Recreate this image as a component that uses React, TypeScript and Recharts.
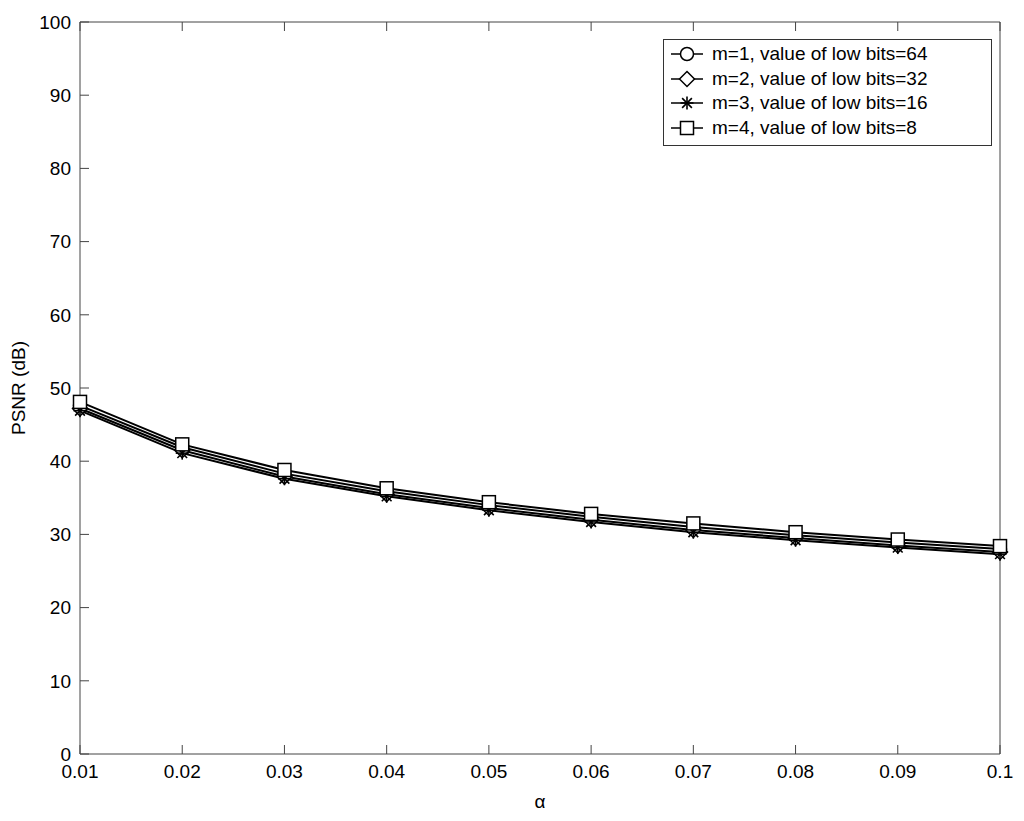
import { LineChart, Line, XAxis, YAxis } from 'recharts';

const alpha = [0.01, 0.02, 0.03, 0.04, 0.05, 0.06, 0.07, 0.08, 0.09, 0.1];
const m1 = [47.6, 41.9, 38.3, 35.9, 34.0, 32.4, 31.0, 29.9, 28.9, 28.0];
const m2 = [47.2, 41.5, 37.9, 35.5, 33.6, 32.0, 30.6, 29.5, 28.5, 27.6];
const m3 = [46.9, 41.1, 37.6, 35.2, 33.3, 31.7, 30.3, 29.2, 28.2, 27.3];
const m4 = [48.1, 42.3, 38.8, 36.3, 34.4, 32.8, 31.5, 30.3, 29.3, 28.4];
const yTicks = [0, 10, 20, 30, 40, 50, 60, 70, 80, 90, 100];

const series = [
  { key: 'm1', name: 'm=1, value of low bits=64', marker: 'circle' },
  { key: 'm2', name: 'm=2, value of low bits=32', marker: 'diamond' },
  { key: 'm3', name: 'm=3, value of low bits=16', marker: 'star' },
  { key: 'm4', name: 'm=4, value of low bits=8', marker: 'square' },
];

const data = alpha.map((a, i) => ({ a, m1: m1[i], m2: m2[i], m3: m3[i], m4: m4[i] }));

const FONT = 'Liberation Sans, Arial, sans-serif';

// draws one MATLAB-style marker centred on (cx, cy)
function Marker({ type, cx, cy }: { type: string; cx: number; cy: number }) {
  if (type === 'circle') {
    return <circle cx={cx} cy={cy} r={6.5} fill="#fff" stroke="#000" strokeWidth={1.5} />;
  }
  if (type === 'diamond') {
    const s = 7.5;
    return (
      <polygon
        points={`${cx},${cy - s} ${cx + s},${cy} ${cx},${cy + s} ${cx - s},${cy}`}
        fill="#fff"
        stroke="#000"
        strokeWidth={1.5}
      />
    );
  }
  if (type === 'star') {
    const s = 6.5;
    const d = s * 0.75;
    return (
      <g stroke="#000" strokeWidth={1.6}>
        <line x1={cx} y1={cy - s} x2={cx} y2={cy + s} />
        <line x1={cx - s} y1={cy} x2={cx + s} y2={cy} />
        <line x1={cx - d} y1={cy - d} x2={cx + d} y2={cy + d} />
        <line x1={cx - d} y1={cy + d} x2={cx + d} y2={cy - d} />
      </g>
    );
  }
  return <rect x={cx - 6.5} y={cy - 6.5} width={13} height={13} fill="#fff" stroke="#000" strokeWidth={1.5} />;
}

function makeDot(type: string) {
  return (props: any) => {
    const { cx, cy, index } = props;
    if (cx == null || cy == null) return <g key={index} />;
    return <Marker key={index} type={type} cx={cx} cy={cy} />;
  };
}

function LegendBox() {
  return (
    <div
      style={{
        position: 'absolute',
        left: 663,
        top: 39,
        border: '1px solid #333',
        background: '#fff',
        width: 327,
        padding: '2px 0 5px 0',
        fontFamily: FONT,
        fontSize: 19,
        color: '#000',
      }}
    >
      {series.map((s) => (
        <div key={s.key} style={{ display: 'flex', alignItems: 'center', height: 24.5 }}>
          <svg width={44} height={24} style={{ marginLeft: 4 }}>
            <line x1={3} y1={12} x2={35} y2={12} stroke="#000" strokeWidth={1.5} />
            <Marker type={s.marker} cx={19} cy={12} />
          </svg>
          <span style={{ whiteSpace: 'nowrap' }}>{s.name}</span>
        </div>
      ))}
    </div>
  );
}

const emptyTick = () => <g />;

export default function App() {
  return (
    <div style={{ position: 'absolute', left: 0, top: 0, width: 1024, height: 821, background: '#fff' }}>
      <LineChart
        width={1024}
        height={821}
        data={data}
        margin={{ top: 21, right: 23, bottom: 0, left: 0 }}
      >
        <XAxis
          xAxisId="bottom"
          dataKey="a"
          type="number"
          domain={[0.01, 0.1]}
          ticks={alpha}
          tickFormatter={(v) => String(v)}
          height={67}
          stroke="#444"
          tickSize={-9}
          tickMargin={20}
          tick={{ fill: '#000', fontSize: 19, fontFamily: FONT }}
          label={{
            content: (p: any) => (
              <text
                x={p.viewBox.x + p.viewBox.width / 2}
                y={808}
                textAnchor="middle"
                fontFamily={FONT}
                fontSize={19}
                fill="#000"
              >
                α
              </text>
            ),
          }}
        />
        <XAxis
          xAxisId="top"
          orientation="top"
          dataKey="a"
          type="number"
          domain={[0.01, 0.1]}
          ticks={alpha}
          height={1}
          stroke="#444"
          tickSize={-9}
          tick={emptyTick}
        />
        <YAxis
          yAxisId="left"
          type="number"
          domain={[0, 100]}
          ticks={yTicks}
          width={80}
          stroke="#444"
          tickSize={-9}
          tickMargin={18}
          tick={{ fill: '#000', fontSize: 19, fontFamily: FONT }}
          label={{
            content: (p: any) => {
              const cy = p.viewBox.y + p.viewBox.height / 2;
              return (
                <text
                  x={25}
                  y={cy}
                  transform={`rotate(-90, 25, ${cy})`}
                  textAnchor="middle"
                  fontFamily={FONT}
                  fontSize={19}
                  fill="#000"
                >
                  PSNR (dB)
                </text>
              );
            },
          }}
        />
        <YAxis
          yAxisId="right"
          orientation="right"
          type="number"
          domain={[0, 100]}
          ticks={yTicks}
          width={1}
          stroke="#444"
          tickSize={-9}
          tick={emptyTick}
        />
        {series.map((s) => (
          <Line
            key={s.key}
            xAxisId="bottom"
            yAxisId="left"
            dataKey={s.key}
            name={s.name}
            type="linear"
            stroke="#000"
            strokeWidth={2}
            dot={makeDot(s.marker)}
            activeDot={false}
            isAnimationActive={false}
          />
        ))}
      </LineChart>
      <LegendBox />
    </div>
  );
}
